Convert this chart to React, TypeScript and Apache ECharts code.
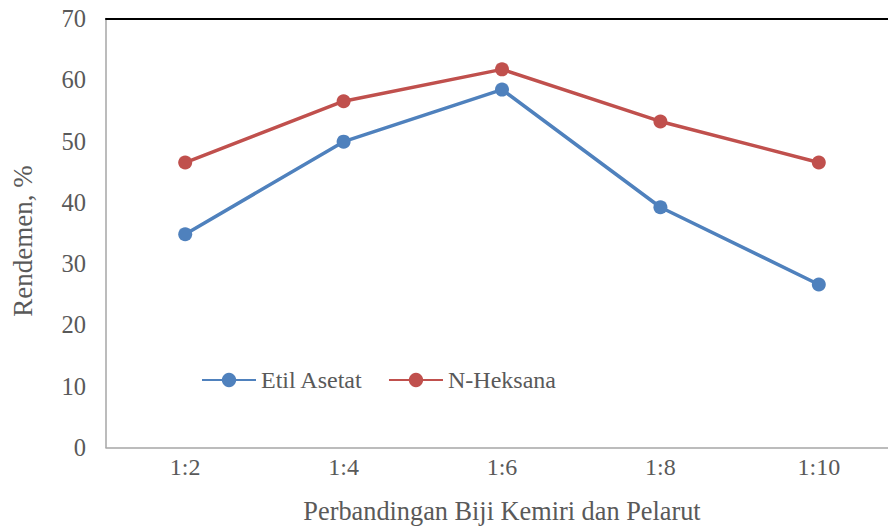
import React, { useEffect, useRef } from "react";
import * as echarts from "echarts";

const categories = ["1:2", "1:4", "1:6", "1:8", "1:10"];
const etilAsetat = [34.8, 49.9, 58.4, 39.2, 26.6];
const nHeksana = [46.5, 56.5, 61.7, 53.2, 46.5];
const seriesNames = ["Etil Asetat", "N-Heksana"];
const yTitle = "Rendemen, %";
const xTitle = "Perbandingan Biji Kemiri dan Pelarut";

export default function App() {
  const ref = useRef<HTMLDivElement>(null);
  useEffect(() => {
    if (!ref.current) return;
    const chart = echarts.init(ref.current, null, { renderer: "svg" });
    const font = "'Liberation Serif', 'Times New Roman', serif";
    const txt = "#595959";
    chart.setOption({
      animation: false,
      textStyle: { fontFamily: font },
      grid: {
        left: 106,
        right: -10,
        top: 18.5,
        bottom: 79.5,
        containLabel: false,
        outerBoundsMode: "none",
      },
      legend: {
        left: 196,
        top: 363,
        itemWidth: 54,
        itemHeight: 18,
        itemGap: 25,
        textStyle: { fontFamily: font, fontSize: 24, color: txt },
        data: seriesNames,
      },
      graphic: [
        {
          type: "text",
          x: 23,
          y: 241,
          rotation: Math.PI / 2,
          style: {
            text: yTitle,
            fontFamily: font,
            fontSize: 27,
            fill: txt,
            align: "center",
            verticalAlign: "middle",
          },
        },
      ],
      xAxis: [
        {
          type: "category",
          data: categories,
          boundaryGap: true,
          axisLine: { lineStyle: { color: "#A6A6A6", width: 1.5 } },
          axisTick: { show: false },
          axisLabel: { fontFamily: font, fontSize: 24, color: txt, margin: 7 },
          name: xTitle,
          nameLocation: "middle",
          nameGap: 51,
          nameTextStyle: { fontFamily: font, fontSize: 26.3, color: txt },
        },
        {
          type: "category",
          data: categories,
          position: "top",
          axisLine: { lineStyle: { color: "#000000", width: 2 } },
          axisTick: { show: false },
          axisLabel: { show: false },
        },
      ],
      yAxis: {
        type: "value",
        min: 0,
        max: 70,
        interval: 10,
        axisLine: { show: true, lineStyle: { color: "#A6A6A6", width: 1.5 } },
        axisTick: { show: false },
        splitLine: { show: false },
        axisLabel: { fontFamily: font, fontSize: 24.5, color: txt, margin: 20 },
      },
      series: [
        {
          name: seriesNames[0],
          type: "line",
          data: etilAsetat,
          symbol: "circle",
          symbolSize: 14,
          lineStyle: { color: "#4F81BD", width: 3.5 },
          itemStyle: { color: "#4F81BD" },
        },
        {
          name: seriesNames[1],
          type: "line",
          data: nHeksana,
          symbol: "circle",
          symbolSize: 14,
          lineStyle: { color: "#C0504D", width: 3.5 },
          itemStyle: { color: "#C0504D" },
        },
      ],
    });
    return () => chart.dispose();
  }, []);
  return (
    <div
      ref={ref}
      style={{
        position: "fixed",
        left: 0,
        top: 0,
        width: 888,
        height: 527,
        overflow: "hidden",
        background: "#fff",
      }}
    />
  );
}
